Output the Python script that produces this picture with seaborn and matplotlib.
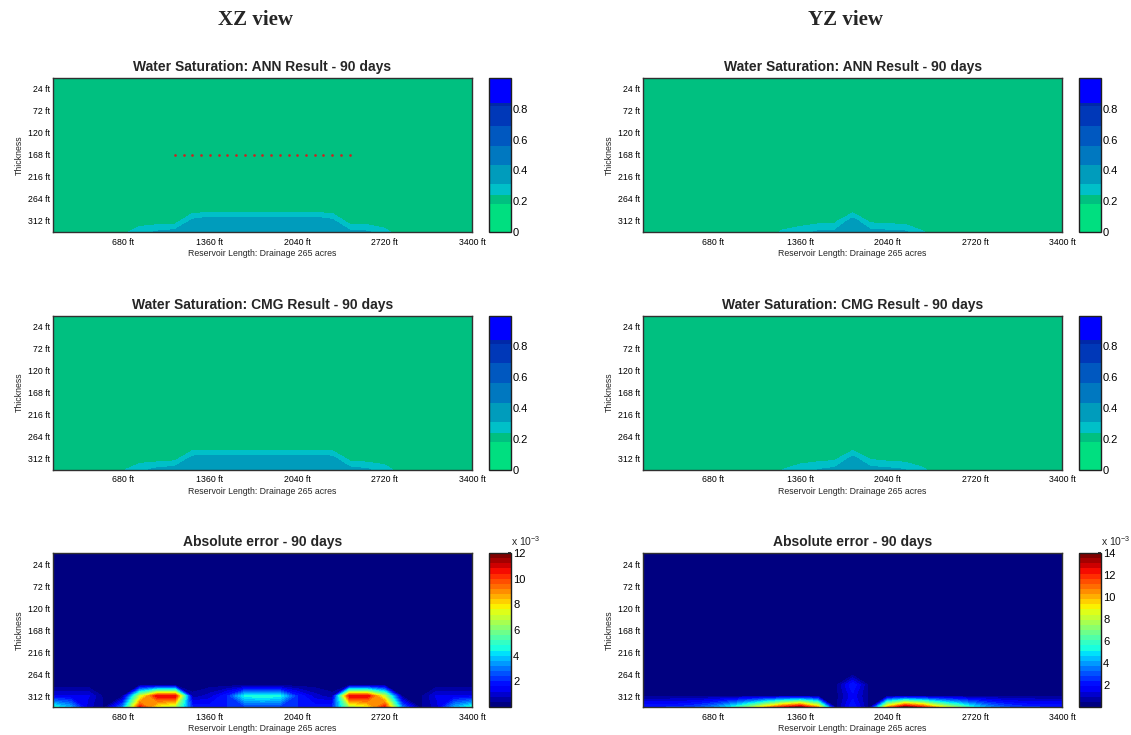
import numpy as np
import matplotlib
matplotlib.use("Agg")
import matplotlib.pyplot as plt
import seaborn as sns

# ---- grid (cell nodes) ----
x_ft = [136, 272, 408, 544, 680, 816, 952, 1088, 1224, 1360, 1496, 1632, 1768,
        1904, 2040, 2176, 2312, 2448, 2584, 2720, 2856, 2992, 3128, 3264, 3400]
depth_ft = [0, 24, 48, 72, 96, 120, 144, 168, 192, 216, 240, 264, 288, 312, 336]

x_ticks = [680, 1360, 2040, 2720, 3400]
x_tick_labels = ["680 ft", "1360 ft", "2040 ft", "2720 ft", "3400 ft"]
y_ticks = [24, 72, 120, 168, 216, 264, 312]
y_tick_labels = ["24 ft", "72 ft", "120 ft", "168 ft", "216 ft", "264 ft", "312 ft"]

# horizontal well perforations (XZ section)
well_x = [1088, 1156, 1224, 1292, 1360, 1428, 1496, 1564, 1632, 1700, 1768,
          1836, 1904, 1972, 2040, 2108, 2176, 2244, 2312, 2380, 2448]
well_depth = 168

# ---- water saturation: upper layers are uniform, bottom layers listed ----
sw_background = 0.2

xz_ann_288 = [0.2] * 25
xz_ann_312 = [0.2, 0.2, 0.2, 0.2, 0.2, 0.2, 0.2, 0.2, 0.33, 0.37, 0.37, 0.37, 0.37,
              0.37, 0.37, 0.37, 0.33, 0.2, 0.2, 0.2, 0.2, 0.2, 0.2, 0.2, 0.2]
xz_ann_336 = [0.2, 0.2, 0.2, 0.2, 0.22, 0.28, 0.32, 0.34, 0.40, 0.40, 0.40, 0.40, 0.40,
              0.40, 0.40, 0.40, 0.36, 0.33, 0.32, 0.26, 0.2, 0.2, 0.2, 0.2, 0.2]

xz_cmg_288 = [0.2] * 25
xz_cmg_312 = [0.2, 0.2, 0.2, 0.2, 0.2, 0.2, 0.2, 0.21, 0.34, 0.36, 0.36, 0.36, 0.36,
              0.36, 0.36, 0.36, 0.34, 0.21, 0.2, 0.2, 0.2, 0.2, 0.2, 0.2, 0.2]
xz_cmg_336 = [0.2, 0.2, 0.2, 0.2, 0.23, 0.29, 0.33, 0.35, 0.40, 0.40, 0.40, 0.40, 0.40,
              0.40, 0.40, 0.40, 0.37, 0.34, 0.32, 0.27, 0.2, 0.2, 0.2, 0.2, 0.2]

yz_ann_288 = [0.2] * 25
yz_ann_312 = [0.2, 0.2, 0.2, 0.2, 0.2, 0.2, 0.2, 0.2, 0.2, 0.2, 0.21, 0.22, 0.35,
              0.22, 0.21, 0.205, 0.2, 0.2, 0.2, 0.2, 0.2, 0.2, 0.2, 0.2, 0.2]
yz_ann_336 = [0.2, 0.2, 0.2, 0.2, 0.2, 0.2, 0.2, 0.2, 0.25, 0.28, 0.32, 0.33, 0.38,
              0.34, 0.33, 0.32, 0.245, 0.2, 0.2, 0.2, 0.2, 0.2, 0.2, 0.2, 0.2]

yz_cmg_288 = [0.2] * 25
yz_cmg_312 = [0.2, 0.2, 0.2, 0.2, 0.2, 0.2, 0.2, 0.2, 0.2, 0.2, 0.21, 0.22, 0.34,
              0.23, 0.21, 0.205, 0.2, 0.2, 0.2, 0.2, 0.2, 0.2, 0.2, 0.2, 0.2]
yz_cmg_336 = [0.2, 0.2, 0.2, 0.2, 0.2, 0.2, 0.2, 0.2, 0.24, 0.28, 0.31, 0.33, 0.37,
              0.34, 0.33, 0.31, 0.25, 0.2, 0.2, 0.2, 0.2, 0.2, 0.2, 0.2, 0.2]

# ---- absolute error (x 10^-3) ----
err_background = 0.2

xz_err_288 = [0.2] * 25
xz_err_312 = [1.3, 1.3, 1.3, 0.2, 0.3, 7.0, 10.8, 10.8, 0.5, 1.0, 2.0, 4.5, 4.8,
              4.5, 2.0, 1.0, 0.5, 10.8, 10.8, 7.0, 0.3, 0.2, 1.3, 1.3, 1.3]
xz_err_336 = [4.8, 3.6, 1.0, 0.3, 3.0, 10.5, 7.5, 6.5, 2.0, 1.8, 2.0, 2.2, 2.2,
              2.2, 2.0, 1.8, 2.0, 6.5, 7.5, 10.5, 3.0, 0.3, 1.0, 3.6, 4.8]

yz_err_288 = [0.2, 0.2, 0.2, 0.2, 0.2, 0.2, 0.2, 0.2, 0.2, 0.2, 0.2, 0.2, 2.3,
              0.2, 0.2, 0.2, 0.2, 0.2, 0.2, 0.2, 0.2, 0.2, 0.2, 0.2, 0.2]
yz_err_312 = [0.4, 0.4, 0.4, 0.4, 0.4, 0.4, 0.4, 0.4, 0.4, 0.4, 0.4, 0.2, 1.7,
              0.2, 0.4, 0.4, 0.4, 0.4, 0.4, 0.4, 0.4, 0.4, 0.4, 0.4, 0.4]
yz_err_336 = [2.3, 2.3, 2.4, 2.8, 3.6, 5.0, 7.0, 9.5, 12.0, 13.5, 10.0, 0.2, 2.3,
              0.2, 10.0, 13.8, 12.0, 9.0, 7.0, 5.0, 3.6, 2.8, 2.4, 2.3, 2.3]

xz_err_max = 12
yz_err_max = 14
n_err_bands = 30

# saturation contour bands and their colours
sw_levels = [0, 0.18, 0.24, 0.31, 0.435, 0.56, 0.69, 0.815, 0.84, 1.0]
sw_colors = ["#00DF80", "#00C080", "#00C0C8", "#009CBC", "#0078C0",
             "#0058C0", "#0038B8", "#0028A8", "#0000FF"]


def build_field(background, rows):
    n_upper = len(depth_ft) - len(rows)
    upper = np.full((n_upper, len(x_ft)), background)
    return np.vstack([upper, np.array(rows, dtype=float)])


sns.set_theme(style="white")
plt.rcParams["font.family"] = ["Liberation Sans", "DejaVu Sans"]
plt.rcParams["mathtext.fontset"] = "custom"
plt.rcParams["mathtext.rm"] = "Liberation Sans"

W, H = 1131, 735
fig = plt.figure(figsize=(W / 100, H / 100), dpi=100)
fig.patch.set_facecolor("white")

col_left = [52.7, 643.0]
ax_w = 419.3
cb_left = [489.0, 1079.0]
cb_w = 22.0
row_top = [78.0, 315.5, 553.0]
ax_h = 154.0

X, Y = np.meshgrid(np.array(x_ft, float), np.array(depth_ft, float))

panels = [
    [("Water Saturation: ANN Result - 90 days", build_field(sw_background, [xz_ann_288, xz_ann_312, xz_ann_336]), "sw", None),
     ("Water Saturation: CMG Result - 90 days", build_field(sw_background, [xz_cmg_288, xz_cmg_312, xz_cmg_336]), "sw", None),
     ("Absolute error - 90 days", build_field(err_background, [xz_err_288, xz_err_312, xz_err_336]), "err", xz_err_max)],
    [("Water Saturation: ANN Result - 90 days", build_field(sw_background, [yz_ann_288, yz_ann_312, yz_ann_336]), "sw", None),
     ("Water Saturation: CMG Result - 90 days", build_field(sw_background, [yz_cmg_288, yz_cmg_312, yz_cmg_336]), "sw", None),
     ("Absolute error - 90 days", build_field(err_background, [yz_err_288, yz_err_312, yz_err_336]), "err", yz_err_max)],
]

# jet colours taken at each band's lower level (navy at 0, dark red at the top)
jet = matplotlib.colormaps["jet"]
err_colors = [jet(i / (n_err_bands - 1)) for i in range(n_err_bands)]

for c in range(2):
    for r in range(3):
        title, Z, kind, vmax = panels[c][r]
        ax = fig.add_axes([col_left[c] / W, 1 - (row_top[r] + ax_h) / H, ax_w / W, ax_h / H])
        cax = fig.add_axes([cb_left[c] / W, 1 - (row_top[r] + ax_h) / H, cb_w / W, ax_h / H])
        if kind == "sw":
            cs = ax.contourf(X, Y, Z, levels=sw_levels, colors=sw_colors)
            cb = fig.colorbar(cs, cax=cax, spacing="proportional")
            cb.set_ticks([0, 0.2, 0.4, 0.6, 0.8])
            cb.set_ticklabels(["0", "0.2", "0.4", "0.6", "0.8"])
        else:
            lv = np.linspace(0, vmax, n_err_bands + 1)
            cs = ax.contourf(X, Y, Z, levels=lv, colors=err_colors)
            cb = fig.colorbar(cs, cax=cax, spacing="proportional")
            tk = list(range(2, vmax + 1, 2))
            cb.set_ticks(tk)
            cb.set_ticklabels([str(t) for t in tk])
            cax.text(1.0, 1.03, r"x 10$^{-3}$", transform=cax.transAxes,
                     ha="left", va="bottom", fontsize=7.5)
        cb.outline.set_edgecolor("#202020")
        cb.outline.set_linewidth(1.0)
        cax.tick_params(axis="y", which="both", direction="in", length=2.5,
                        labelsize=8, pad=1.5, colors="#202020", labelcolor="black")
        cax.minorticks_off()

        if c == 0 and r == 0:
            ax.plot(well_x, [well_depth] * len(well_x), linestyle="none",
                    marker="o", markersize=0.9, color="#d02020")

        ax.set_xlim(x_ft[0], x_ft[-1])
        ax.set_ylim(depth_ft[-1], depth_ft[0])
        ax.set_xticks(x_ticks)
        ax.set_xticklabels(x_tick_labels)
        ax.set_yticks(y_ticks)
        ax.set_yticklabels(y_tick_labels)
        ax.tick_params(axis="both", direction="in", length=2, labelsize=6.3,
                       pad=2, colors="#303030", labelcolor="black")
        ax.tick_params(axis="x", pad=4)
        ax.set_xlabel("Reservoir Length: Drainage 265 acres", fontsize=6.3, labelpad=2)
        ax.set_ylabel("Thickness", fontsize=6.3, labelpad=3)
        ax.set_title(title, fontsize=10, fontweight="bold", pad=5)
        for s in ax.spines.values():
            s.set_edgecolor("#303030")
            s.set_linewidth(1.0)

fig.text(255 / W, 1 - 20 / H, "XZ view", ha="center", va="center",
         fontsize=15, fontweight="bold", family=["Liberation Serif", "DejaVu Serif"])
fig.text(845 / W, 1 - 20 / H, "YZ view", ha="center", va="center",
         fontsize=15, fontweight="bold", family=["Liberation Serif", "DejaVu Serif"])

fig.savefig("out.png", dpi=100, facecolor="white")
